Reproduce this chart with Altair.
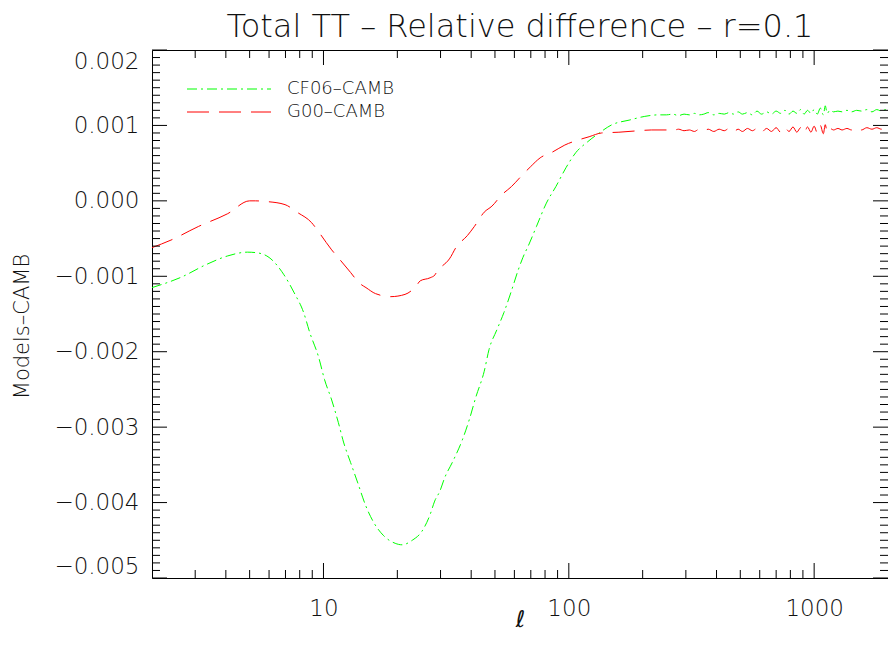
import altair as alt
import pandas as pd

# ---- data ----
legend_labels = ["CF06–CAMB", "G00–CAMB"]

l_cf06_low = [2.0, 2.64, 3.3, 4.07, 4.9, 5.4, 6.0, 6.9, 7.6, 8.3, 8.8, 9.55, 10.1, 10.8,
              11.5, 12.1, 12.9, 13.8, 14.9, 16.0, 17.6, 19.6, 20.9, 23.0, 25.2, 27.2,
              28.4, 29.8, 31.2, 33.6, 36.8, 39.3, 41.8, 45.2, 47.3, 50.9, 54.4, 58.0,
              62.3, 65.0, 68.5, 73.8, 81.0, 88.6, 97.4, 106.8, 119.0, 133.0, 150.0,
              176.0, 204.0, 232.0]
v_cf06_low = [-0.00115, -0.00101, -0.00085, -0.00073, -0.00068, -0.00069, -0.00075,
              -0.00098, -0.00122, -0.00148, -0.00175, -0.00207, -0.00237, -0.00264,
              -0.00294, -0.00321, -0.00347, -0.00374, -0.00405, -0.00426, -0.00444,
              -0.00454, -0.00456, -0.00450, -0.00438, -0.00416, -0.00398, -0.00385,
              -0.00367, -0.00346, -0.00317, -0.00290, -0.00260, -0.00226, -0.00197,
              -0.00171, -0.00148, -0.00122, -0.00091, -0.00075, -0.00059, -0.00034,
              -0.00003, 0.00019, 0.00044, 0.00064, 0.00078, 0.00090, 0.00101, 0.00107,
              0.00112, 0.00114]

l_g00_low = [2.0, 2.39, 3.09, 4.07, 5.0, 5.28, 5.9, 6.97, 7.8, 8.95, 9.6, 10.8, 11.6,
             12.9, 14.0, 14.9, 16.3, 18.8, 21.5, 23.2, 24.1, 24.8, 27.2, 28.5, 29.2,
             30.3, 32.6, 34.8, 38.6, 41.2, 45.2, 48.6, 53.3, 58.4, 64.1, 69.7, 76.4,
             86.1, 96.3, 110.0, 121.0, 136.0, 160.0, 193.0, 217.0]
v_g00_low = [-0.00062, -0.00052, -0.00034, -0.00017, 0.00000, 0.00000, -0.00001,
             -0.00005, -0.00015, -0.00029, -0.00042, -0.00065, -0.00077, -0.00095,
             -0.00109, -0.00115, -0.00123, -0.00127, -0.00124, -0.00117, -0.00111,
             -0.00106, -0.00102, -0.00098, -0.00091, -0.00087, -0.00077, -0.00061,
             -0.00046, -0.00034, -0.00015, -0.00007, 0.00008, 0.00019, 0.00033,
             0.00045, 0.00057, 0.00065, 0.00074, 0.00081, 0.00085, 0.00090, 0.00091,
             0.00093, 0.00094]

l_high = [250, 265, 280, 295, 310, 325, 340, 355, 370, 390, 410, 430, 450, 470, 490,
          510, 535, 560, 585, 610, 640, 670, 700, 730, 760, 790, 820, 850, 880, 910,
          940, 970, 1000, 1030, 1060, 1090, 1110, 1130, 1160, 1200, 1250, 1300, 1360,
          1420, 1490, 1560, 1640, 1720, 1800, 1880, 1960, 2000]
v_cf06_high = [0.00114, 0.00115, 0.00113, 0.00115, 0.00114, 0.00116, 0.00114, 0.00115,
               0.00117, 0.00114, 0.00116, 0.00115, 0.00117, 0.00115, 0.00118, 0.00115,
               0.00117, 0.00114, 0.00119, 0.00115, 0.00118, 0.00115, 0.00119, 0.00116,
               0.00120, 0.00115, 0.00119, 0.00116, 0.00121, 0.00115, 0.00120, 0.00116,
               0.00121, 0.00115, 0.00123, 0.00114, 0.00126, 0.00116, 0.00120, 0.00118,
               0.00119, 0.00118, 0.00120, 0.00118, 0.00120, 0.00119, 0.00121, 0.00118,
               0.00121, 0.00119, 0.00121, 0.00120]
v_g00_high = [0.00094, 0.00093, 0.00095, 0.00093, 0.00094, 0.00092, 0.00095, 0.00093,
              0.00095, 0.00092, 0.00095, 0.00093, 0.00096, 0.00092, 0.00095, 0.00092,
              0.00096, 0.00093, 0.00096, 0.00091, 0.00096, 0.00092, 0.00097, 0.00091,
              0.00097, 0.00092, 0.00098, 0.00091, 0.00097, 0.00090, 0.00098, 0.00091,
              0.00099, 0.00090, 0.00100, 0.00089, 0.00101, 0.00091, 0.00096, 0.00094,
              0.00096, 0.00094, 0.00096, 0.00094, 0.00097, 0.00094, 0.00097, 0.00095,
              0.00097, 0.00095, 0.00097, 0.00096]

y_major = [-0.005, -0.004, -0.003, -0.002, -0.001, 0.0, 0.001, 0.002]
y_minor = [round(-0.005 + i * 0.0001, 4) for i in range(71) if i % 10 != 0]
x_major = [10, 100, 1000]
x_minor = [3, 4, 5, 6, 7, 8, 9, 20, 30, 40, 50, 60, 70, 80, 90,
           200, 300, 400, 500, 600, 700, 800, 900]

title_text = "Total TT – Relative difference – r=0.1"
x_title = "ℓ"
y_title = "Models–CAMB"

# ---- build tables ----
rows = []
for l, v in zip(l_cf06_low + l_high, v_cf06_low + v_cf06_high):
    rows.append({"l": l, "v": v, "model": legend_labels[0], "order": len(rows)})
for l, v in zip(l_g00_low + l_high, v_g00_low + v_g00_high):
    rows.append({"l": l, "v": v, "model": legend_labels[1], "order": len(rows)})
df = pd.DataFrame(rows)

W, H = 736, 528
FONT = "DejaVu Sans"
WT = 200
TXT = "#111111"

xscale = alt.Scale(type="log", domain=[2, 2000], nice=False)
yscale = alt.Scale(domain=[-0.005, 0.002], nice=False, zero=False)

xaxis = alt.Axis(values=x_major, format="d", ticks=False, tickSize=0, domain=False,
                 grid=False, labelFontSize=23, labelFont=FONT, labelFontWeight=WT,
                 labelColor=TXT, labelPadding=19, title=x_title, titleFontSize=23,
                 titleFont=FONT, titleFontWeight=WT, titleFontStyle="italic",
                 titleColor=TXT, titleY=41, titleBaseline="middle")
yaxis = alt.Axis(values=y_major, format=".3f", ticks=False, tickSize=0, domain=False,
                 grid=False, labelFontSize=23, labelFont=FONT, labelFontWeight=WT,
                 labelColor=TXT, labelPadding=13, labelFlush=True, title=y_title,
                 titleFontSize=21, titleFont=FONT, titleFontWeight=WT,
                 titleColor=TXT, titleX=-130, titleY=276,
                 titleAlign="center", titleBaseline="middle")

leg = alt.Legend(title=None, orient="none", legendX=66, legendY=28, padding=0,
                 symbolType="M-4,0H4", symbolSize=441, symbolStrokeWidth=1,
                 labelFontSize=18, labelFont=FONT, labelFontWeight=WT, labelColor=TXT,
                 labelOffset=47, rowPadding=3)

lines = alt.Chart(df).mark_line(strokeWidth=1, interpolate="monotone", clip=True).encode(
    x=alt.X("l:Q", scale=xscale, axis=xaxis),
    y=alt.Y("v:Q", scale=yscale, axis=yaxis),
    color=alt.Color("model:N",
                    scale=alt.Scale(domain=legend_labels, range=["#00ff00", "#ff0000"]),
                    legend=leg),
    strokeDash=alt.StrokeDash("model:N",
                              scale=alt.Scale(domain=legend_labels,
                                              range=[[10, 4, 2, 4], [22, 10]]),
                              legend=leg),
    order="order:Q",
)

def yticks(vals, length, right=False):
    d = pd.DataFrame({"v": vals})
    x0, x1 = (W - length, W) if right else (0, length)
    return alt.Chart(d).mark_rule(color="#000000", strokeWidth=1).encode(
        y=alt.Y("v:Q", scale=yscale, axis=yaxis),
        x=alt.value(x0), x2=alt.value(x1))

def xticks(vals, length, top=False):
    d = pd.DataFrame({"l": vals})
    y0, y1 = (0, length) if top else (H - length, H)
    return alt.Chart(d).mark_rule(color="#000000", strokeWidth=1).encode(
        x=alt.X("l:Q", scale=xscale, axis=xaxis),
        y=alt.value(y0), y2=alt.value(y1))

chart = alt.layer(
    lines,
    yticks(y_major, 15), yticks(y_major, 15, True),
    yticks(y_minor, 8), yticks(y_minor, 8, True),
    xticks(x_major, 15), xticks(x_major, 15, True),
    xticks(x_minor, 8), xticks(x_minor, 8, True),
).properties(
    width=W, height=H,
    title=alt.TitleParams(title_text, fontSize=32, font=FONT, fontWeight=WT,
                          color=TXT, anchor="middle", offset=6),
    padding={"left": 144, "top": 42, "right": 0, "bottom": 54},
    autosize=alt.AutoSizeParams(type="none"),
).configure(background="white").configure_view(stroke="#000000", strokeWidth=1)

chart.save("out.html", embed_options={"renderer": "svg", "actions": False})
